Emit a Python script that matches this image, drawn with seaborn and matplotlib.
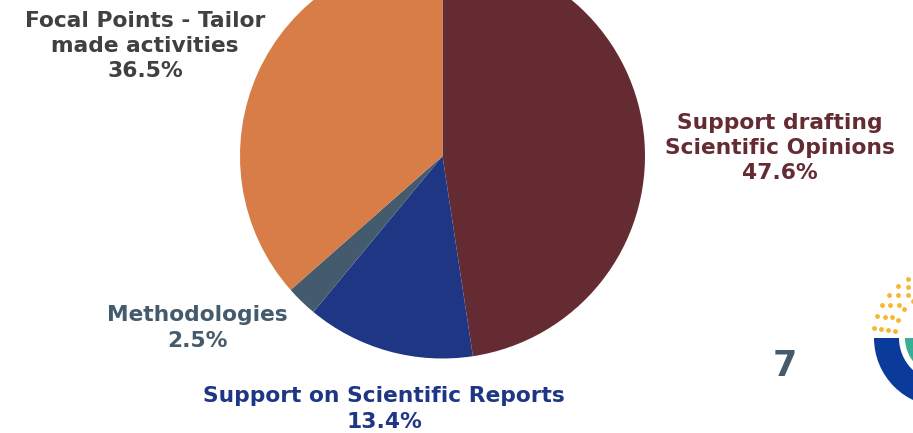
import numpy as np
import matplotlib
matplotlib.use("Agg")
import matplotlib.pyplot as plt
import seaborn as sns
from matplotlib.patches import Wedge

# data
categories = [
    "Support drafting\nScientific Opinions",
    "Support on Scientific Reports",
    "Methodologies",
    "Focal Points - Tailor\nmade activities",
]
shares = [47.6, 13.4, 2.5, 36.5]
slice_colors = ["#652B33", "#1F3685", "#445B6D", "#D87D48"]
label_colors = ["#652B33", "#1F3685", "#445B6D", "#404040"]
# label anchor positions in pixel space (x, y from top)
label_pos = [(780, 148), (384, 409), (197, 328), (145, 46)]

sns.set_theme(style="white")
plt.rcParams["font.family"] = ["DejaVu Sans"]

W, H = 913, 433
fig = plt.figure(figsize=(W / 100, H / 100), dpi=100)
ax = fig.add_axes([0, 0, 1, 1])
ax.set_xlim(0, W)
ax.set_ylim(0, H)
ax.set_aspect("equal")
ax.axis("off")

ax.pie(
    shares,
    colors=slice_colors,
    startangle=90,
    counterclock=False,
    center=(442.5, H - 156),
    radius=202.5,
    wedgeprops=dict(linewidth=0),
)
ax.set_xlim(0, W)
ax.set_ylim(0, H)

for cat, val, col, (x, y) in zip(categories, shares, label_colors, label_pos):
    ax.text(x, H - y, f"{cat}\n{val:.1f}%", ha="center", va="center",
            fontsize=15.7, fontweight="bold", color=col, linespacing=1.32)

# page number
ax.text(785, H - 366, "7", ha="center", va="center", fontsize=25,
        fontweight="bold", color="#455A6B")

# logo fragment (bottom right)
cx, cy = 942.8, H - 338
ax.add_patch(Wedge((cx, cy), 68.8, 180, 360, width=25, color="#0A3A9A", lw=0))
ax.add_patch(Wedge((cx, cy), 37.8, 180, 360, width=10, color="#3AAE92", lw=0))
for r in [48, 55, 62, 69]:
    n = int(r / 8)
    for a in np.linspace(100, 172, n):
        t = np.deg2rad(a)
        ax.plot(cx + r * np.cos(t), cy + r * np.sin(t), "o", ms=3.5,
                color="#F6B833", mec="none")

fig.savefig("out.png", dpi=100)
